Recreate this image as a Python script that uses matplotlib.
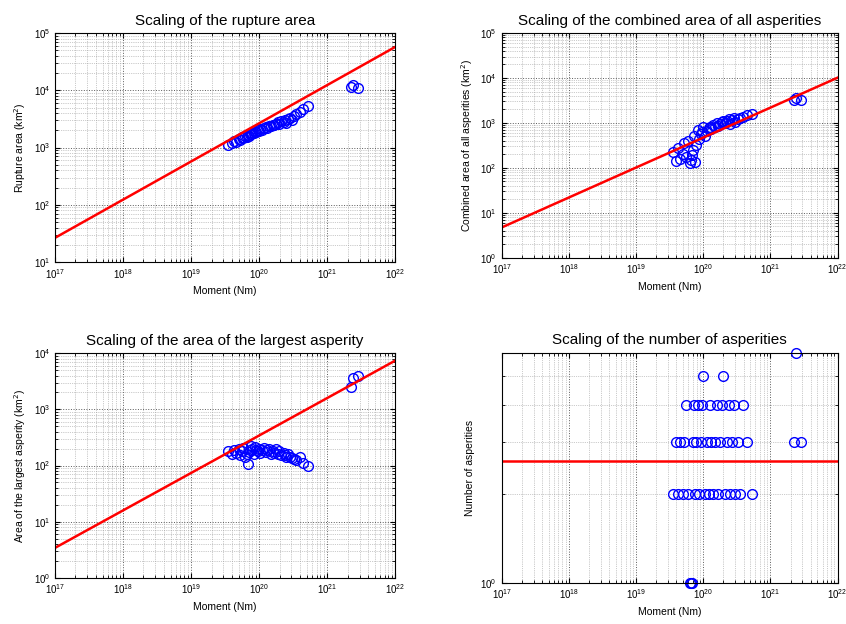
import numpy as np
import matplotlib
matplotlib.use("Agg")
import matplotlib.pyplot as plt
from matplotlib.ticker import LogLocator, NullFormatter

plt.rcParams['font.family'] = ['Liberation Sans', 'DejaVu Sans']

# log10 of seismic moment (Nm) for each event
log_moment = [19.55, 19.60, 19.63, 19.66, 19.70, 19.72, 19.75, 19.77, 19.80, 19.82,
              19.84, 19.85, 19.86, 19.88, 19.90, 19.92, 19.94, 19.96, 19.98, 20.00,
              20.02, 20.05, 20.08, 20.10, 20.12, 20.15, 20.18, 20.20, 20.22, 20.25,
              20.28, 20.30, 20.33, 20.36, 20.38, 20.40, 20.43, 20.46, 20.48, 20.52,
              20.55, 20.60, 20.65, 20.72, 21.35, 21.38, 21.45]
# log10 rupture area (km^2)
log_rupture = [3.05, 3.08, 3.12, 3.10, 3.15, 3.14, 3.18, 3.16, 3.20, 3.19,
               3.22, 3.21, 3.24, 3.23, 3.26, 3.25, 3.28, 3.27, 3.30, 3.29,
               3.32, 3.31, 3.34, 3.36, 3.35, 3.38, 3.37, 3.40, 3.39, 3.42,
               3.44, 3.41, 3.46, 3.45, 3.48, 3.43, 3.50, 3.52, 3.49, 3.55,
               3.58, 3.62, 3.68, 3.72, 4.05, 4.10, 4.04]
# log10 combined area of all asperities (km^2)
log_combined = [2.35, 2.15, 2.45, 2.20, 2.30, 2.55, 2.25, 2.60, 2.10, 2.18,
                2.28, 2.40, 2.70, 2.12, 2.50, 2.85, 2.65, 2.75, 2.80, 2.90,
                2.72, 2.82, 2.88, 2.92, 2.86, 2.95, 2.90, 3.00, 2.93, 2.98,
                3.02, 3.05, 3.00, 3.04, 3.08, 2.98, 3.06, 3.10, 3.03, 3.08,
                3.12, 3.14, 3.18, 3.20, 3.50, 3.55, 3.52]
# log10 area of the largest asperity (km^2)
log_largest = [2.25, 2.20, 2.28, 2.22, 2.30, 2.18, 2.26, 2.32, 2.15, 2.20,
               2.02, 2.24, 2.28, 2.35, 2.30, 2.20, 2.33, 2.27, 2.25, 2.30,
               2.22, 2.28, 2.31, 2.24, 2.27, 2.30, 2.20, 2.26, 2.23, 2.29,
               2.21, 2.25, 2.18, 2.22, 2.19, 2.15, 2.20, 2.16, 2.14, 2.12,
               2.10, 2.15, 2.05, 2.00, 3.40, 3.55, 3.60]
# number of asperities
n_asperities = [2, 3, 2, 3, 2, 3, 4, 2, 1, 1,
                1, 3, 4, 2, 3, 4, 2, 3, 4, 5,
                2, 3, 2, 4, 3, 2, 3, 4, 2, 3,
                4, 5, 2, 3, 4, 2, 3, 4, 2, 3,
                2, 4, 3, 2, 3, 6, 3]

# fitted scaling laws: log10(A) = slope*log10(M) + intercept
fit_slope = 2.0 / 3.0
fit_rupture = -9.91
fit_combined = -10.66
fit_largest = -10.80
mean_asperities = 2.59

M = 10 ** np.array(log_moment)
mline = np.logspace(17, 22, 50)

fig = plt.figure(figsize=(8.46, 6.24), dpi=100)
pos = [[0.065, 0.580, 0.402, 0.367],
       [0.593, 0.587, 0.397, 0.360],
       [0.065, 0.074, 0.402, 0.360],
       [0.593, 0.066, 0.397, 0.369]]


def style(ax):
    ax.set_xscale('log')
    ax.set_yscale('log')
    ax.set_xlim(1e17, 1e22)
    ax.xaxis.set_major_locator(LogLocator(base=10, numticks=10))
    ax.grid(which='major', ls=':', color='0.35', lw=0.7)
    ax.grid(which='minor', ls=':', color='0.6', lw=0.5)
    ax.tick_params(which='both', direction='in', top=True, right=True, labelsize=7)
    ax.set_xlabel('Moment (Nm)', fontsize=7.5)
    for s in ax.spines.values():
        s.set_linewidth(0.8)


panels = [
    ('Scaling of the rupture area', 'Rupture area (km$^2$)', log_rupture, fit_rupture, (1e1, 1e5)),
    ('Scaling of the combined area of all asperities', 'Combined area of all asperities (km$^2$)',
     log_combined, fit_combined, (1e0, 1e5)),
    ('Scaling of the area of the largest asperity', 'Area of the largest asperity (km$^2$)',
     log_largest, fit_largest, (1e0, 1e4)),
]

for i, (title, ylab, vals, icpt, ylim) in enumerate(panels):
    ax = fig.add_axes(pos[i])
    style(ax)
    ax.plot(M, 10 ** np.array(vals), 'o', mfc='none', mec='blue', ms=7, mew=1.0)
    ax.plot(mline, 10 ** (fit_slope * np.log10(mline) + icpt), color='red', lw=1.8)
    ax.set_ylim(*ylim)
    ax.yaxis.set_major_locator(LogLocator(base=10, numticks=10))
    ax.set_title(title, fontsize=11)
    ax.set_ylabel(ylab, fontsize=7.5)

ax = fig.add_axes(pos[3])
style(ax)
ax.plot(M, n_asperities, 'o', mfc='none', mec='blue', ms=7, mew=1.0, clip_on=False)
ax.axhline(mean_asperities, color='red', lw=1.8)
ax.set_ylim(1, 6)
ax.yaxis.set_minor_formatter(NullFormatter())
ax.set_title('Scaling of the number of asperities', fontsize=11)
ax.set_ylabel('Number of asperities', fontsize=7.5)

fig.savefig('out.png', dpi=100)
